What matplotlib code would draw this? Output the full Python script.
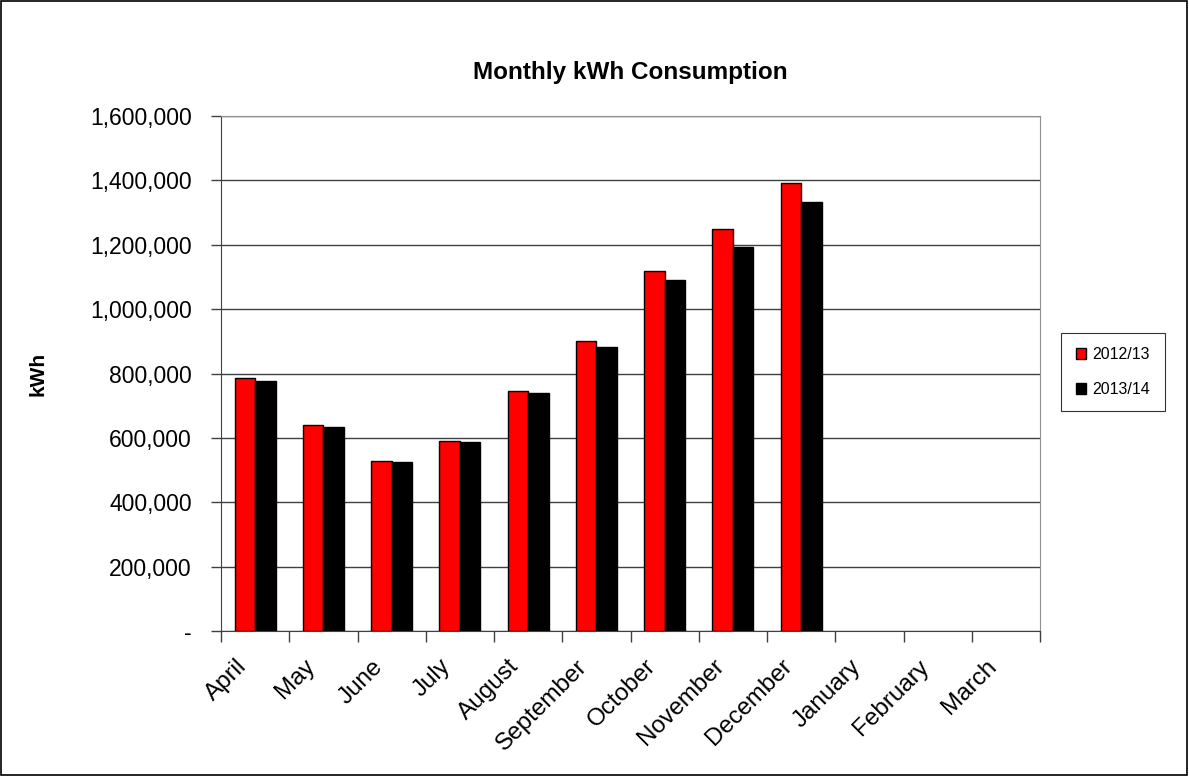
import numpy as np
import matplotlib.pyplot as plt
import matplotlib.patches as mpatches
import matplotlib.transforms as mtransforms
from matplotlib.ticker import FuncFormatter, FixedLocator

plt.rcParams['font.family'] = ['Liberation Sans', 'DejaVu Sans']

months = ['April', 'May', 'June', 'July', 'August', 'September', 'October',
          'November', 'December', 'January', 'February', 'March']
kwh_2012 = [784500, 638500, 528500, 590500, 746000, 902000, 1117500,
            1250000, 1390500, np.nan, np.nan, np.nan]
kwh_2013 = [776000, 634000, 523500, 586500, 738000, 883000, 1089000,
            1193000, 1333000, np.nan, np.nan, np.nan]
series_names = ['2012/13', '2013/14']
yticks = [0, 200000, 400000, 600000, 800000, 1000000, 1200000, 1400000, 1600000]

fig = plt.figure(figsize=(11.89, 7.76), dpi=100)
ax = fig.add_axes([221 / 1189, 1 - 631 / 776, (1040 - 221) / 1189, (631 - 116) / 776])

x = np.arange(len(months))
w = 0.3
ax.bar(x - w / 2, kwh_2012, w, color='#ff0000', edgecolor='black', linewidth=1,
       label=series_names[0], zorder=3)
ax.bar(x + w / 2, kwh_2013, w, color='black', edgecolor='black', linewidth=1,
       label=series_names[1], zorder=3)

ax.set_xlim(-0.5, len(months) - 0.5)
ax.set_ylim(0, 1600000)

# y axis
ax.set_yticks(yticks)
ax.yaxis.set_major_formatter(FuncFormatter(lambda v, p: '-' if v == 0 else f'{v:,.0f}'))
ax.tick_params(axis='y', direction='out', length=7, width=1, colors='#404040',
               labelcolor='black', labelsize=16.5, pad=14)
ax.yaxis.grid(True, color='#404040', linewidth=1, zorder=0)

# x axis: ticks at category edges, labels centred
ax.xaxis.set_major_locator(FixedLocator(np.arange(len(months) + 1) - 0.5))
ax.xaxis.set_minor_locator(FixedLocator(x))
ax.set_xticklabels([], minor=False)
ax.set_xticklabels(months, minor=True, rotation=45, ha='right',
                   rotation_mode='anchor', fontsize=17.5)
ax.tick_params(axis='x', which='major', direction='out', length=8, width=1, colors='#404040')
ax.tick_params(axis='x', which='minor', length=0, pad=14)
shift = mtransforms.ScaledTranslation(-20 / 100, -5 / 100, fig.dpi_scale_trans)
for lab in ax.xaxis.get_minorticklabels():
    lab.set_transform(lab.get_transform() + shift)

for side in ['top', 'right']:
    ax.spines[side].set_color('#909090')
for side in ['left', 'bottom']:
    ax.spines[side].set_color('#404040')

ax.set_ylabel('kWh', fontsize=15, fontweight='bold')
ax.yaxis.set_label_coords(-0.212, 0.5)
fig.text(0.5 * (221 + 1040) / 1189, 1 - 73 / 776, 'Monthly kWh Consumption',
         ha='center', va='center', fontsize=17.5, fontweight='bold')

leg = fig.legend(loc='center', bbox_to_anchor=(1113 / 1189, 1 - 372 / 776),
                 fontsize=11.5, frameon=True, fancybox=False, edgecolor='black',
                 handlelength=0.65, handleheight=0.65, handletextpad=0.4,
                 labelspacing=1.25, borderpad=0.9, borderaxespad=0)
leg.get_frame().set_linewidth(0.8)

fig.patches.append(mpatches.Rectangle((0.0005, 0.0008), 0.998, 0.998, transform=fig.transFigure,
                                      fill=False, edgecolor='black', linewidth=1.2))

fig.savefig('out.png', dpi=100, facecolor='white')
